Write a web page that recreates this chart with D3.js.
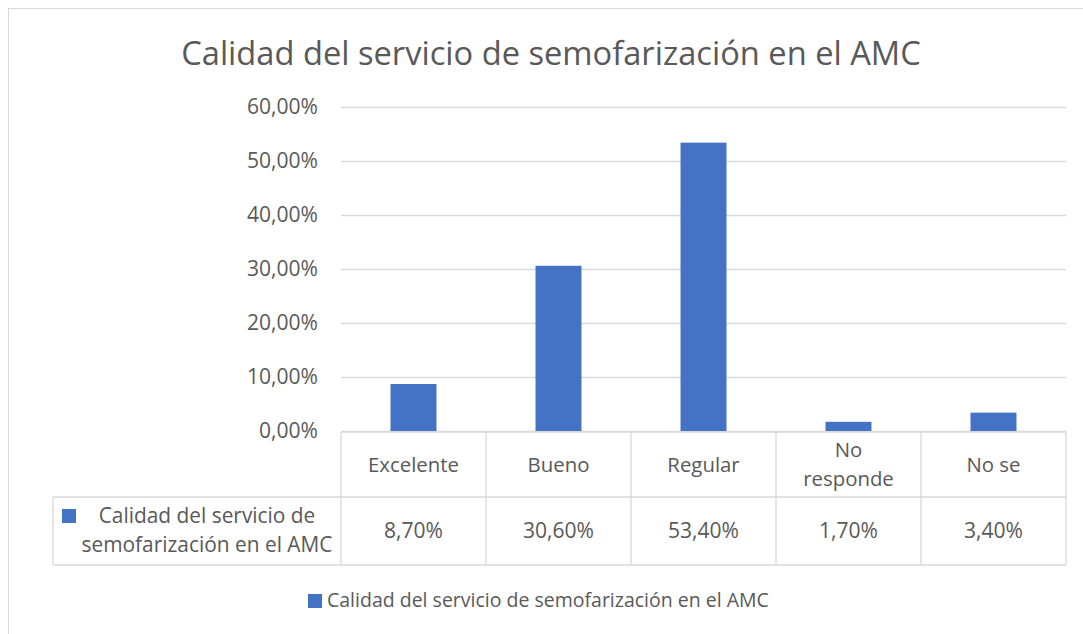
<!DOCTYPE html>
<html>
  <head>
    <meta http-equiv="Content-type" content="text/html; charset=utf-8">
    <title>Calidad del servicio de semofarización</title>
    <script src="https://d3js.org/d3.v7.min.js"></script>
    <style>
      body { margin: 0; background: #fff; }
      text { font-family: "Open Sans", Lato, sans-serif; fill: #595959; }
    </style>
  </head>
  <body>
    <div id="chart"></div>
    <script type="text/javascript">
      (function(d3) {
        'use strict';

        var title = 'Calidad del servicio de semofarización en el AMC';
        var seriesName = 'Calidad del servicio de semofarización en el AMC';
        var categories = ['Excelente', 'Bueno', 'Regular', 'No responde', 'No se'];
        var categoryLines = [['Excelente'], ['Bueno'], ['Regular'], ['No', 'responde'], ['No se']];
        var values = [0.087, 0.306, 0.534, 0.017, 0.034];
        var yTicks = [0, 0.1, 0.2, 0.3, 0.4, 0.5, 0.6];

        var width = 1083, height = 634;
        var blue = '#4472C4', grid = '#d9d9d9';
        var es = d3.formatLocale({ decimal: ',', thousands: '.', grouping: [3], currency: ['', '€'] });
        var pct = es.format('.2%');

        var svg = d3.select('#chart').append('svg')
          .attr('width', width).attr('height', height);

        // measure text and scale font size to hit a target width
        function fit(str, target) {
          var t = svg.append('text').style('font-size', '20px').text(str);
          var w = t.node().getComputedTextLength();
          t.remove();
          return 20 * target / w;
        }

        svg.append('rect')
          .attr('x', 8.5).attr('y', 8.5).attr('width', 1200).attr('height', 800)
          .attr('fill', 'none').attr('stroke', grid);

        svg.append('text')
          .attr('x', 551).attr('y', 65).attr('text-anchor', 'middle')
          .style('font-size', fit(title, 740) + 'px')
          .text(title);

        var x = d3.scaleBand().domain(categories).range([341, 1066])
          .paddingInner(0.683).paddingOuter(0.3415);
        var cols = d3.scaleBand().domain(categories).range([341, 1066]);
        var y = d3.scaleLinear().domain([0, 0.6]).range([431, 107]);

        // gridlines + y axis labels
        var yAxis = d3.axisLeft(y).tickValues(yTicks).tickFormat(pct)
          .tickSize(-(1066 - 341)).tickPadding(23);
        var gy = svg.append('g').attr('transform', 'translate(341,0)').call(yAxis);
        gy.select('.domain').remove();
        gy.selectAll('.tick line').attr('stroke', grid).attr('stroke-width', 1.3);
        gy.selectAll('.tick text')
          .style('font-size', fit('60,00%', 71) + 'px')
          .attr('fill', '#595959');

        svg.selectAll('rect.bar')
          .data(values)
          .enter().append('rect')
          .attr('class', 'bar')
          .attr('x', function(d, i) { return x(categories[i]); })
          .attr('width', x.bandwidth())
          .attr('y', function(d) { return y(d); })
          .attr('height', function(d) { return y(0) - y(d); })
          .attr('fill', blue);

        // data table
        var r0 = 432, r1 = 497, r2 = 565, left = 53;
        var lines = svg.append('g').attr('stroke', grid).attr('stroke-width', 1.3);
        lines.append('line').attr('x1', 341).attr('x2', 1066).attr('y1', r0).attr('y2', r0);
        lines.append('line').attr('x1', left).attr('x2', 1066).attr('y1', r1).attr('y2', r1);
        lines.append('line').attr('x1', left).attr('x2', 1066).attr('y1', r2).attr('y2', r2);
        lines.append('line').attr('x1', left).attr('x2', left).attr('y1', r1).attr('y2', r2);
        lines.selectAll('line.col')
          .data(categories.concat(['end']))
          .enter().append('line')
          .attr('class', 'col')
          .attr('x1', function(d) { return d === 'end' ? 1066 : cols(d); })
          .attr('x2', function(d) { return d === 'end' ? 1066 : cols(d); })
          .attr('y1', r0).attr('y2', r2);

        var catSize = fit('Excelente', 91);
        svg.selectAll('text.cat')
          .data(categoryLines)
          .enter().append('text')
          .attr('class', 'cat')
          .attr('text-anchor', 'middle')
          .style('font-size', catSize + 'px')
          .attr('transform', function(d, i) {
            return 'translate(' + (cols(categories[i]) + cols.bandwidth() / 2) + ',0)';
          })
          .each(function(d) {
            var t = d3.select(this);
            var y0 = d.length === 1 ? 472 : 457;
            d.forEach(function(s, k) {
              t.append('tspan').attr('x', 0).attr('y', y0 + k * 29).text(s);
            });
          });

        svg.selectAll('text.val')
          .data(values)
          .enter().append('text')
          .attr('class', 'val')
          .attr('text-anchor', 'middle')
          .style('font-size', fit('8,70%', 59) + 'px')
          .attr('x', function(d, i) { return cols(categories[i]) + cols.bandwidth() / 2; })
          .attr('y', 538)
          .text(pct);

        // series key in table
        svg.append('rect').attr('x', 62).attr('y', 509).attr('width', 14).attr('height', 14).attr('fill', blue);
        var keyText = svg.append('text').attr('text-anchor', 'middle')
          .style('font-size', fit('semofarización en el AMC', 251) + 'px');
        keyText.append('tspan').attr('x', 207).attr('y', 523).text('Calidad del servicio de');
        keyText.append('tspan').attr('x', 207).attr('y', 552).text('semofarización en el AMC');

        // legend
        svg.append('rect').attr('x', 308).attr('y', 594).attr('width', 14).attr('height', 14).attr('fill', blue);
        svg.append('text').attr('x', 327).attr('y', 607)
          .style('font-size', fit(seriesName, 442) + 'px')
          .text(seriesName);
      })(window.d3);
    </script>
  </body>
</html>
